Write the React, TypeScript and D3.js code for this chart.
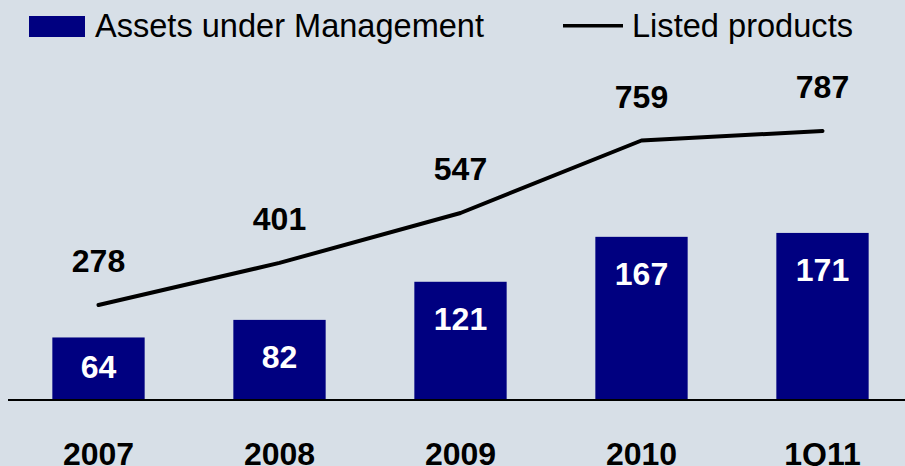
import React from "react";
import * as d3 from "d3";

const categories = ["2007", "2008", "2009", "2010", "1Q11"];
const aum = [64, 82, 121, 167, 171];
const listed = [278, 401, 547, 759, 787];
const legendLabels = ["Assets under Management", "Listed products"];

const W = 905;
const H = 466;
const BG = "#d7dfe7";
const NAVY = "#000080";

export default function App() {
  const x = d3
    .scaleBand<string>()
    .domain(categories)
    .range([8, 913])
    .paddingInner(0.49)
    .paddingOuter(0.245);
  const yBar = d3.scaleLinear().domain([0, 409.4]).range([400, 0]);
  const yLine = d3.scaleLinear().domain([0, 1170]).range([400, 0]);
  const cx = (c: string) => (x(c) as number) + x.bandwidth() / 2;

  const line = d3
    .line<number>()
    .x((_, i) => cx(categories[i]))
    .y((d) => yLine(d));

  const font = "'Liberation Sans', Arial, sans-serif";

  return (
    <>
      <style>{"body{margin:0}"}</style>
      <svg width={W} height={H} style={{ display: "block" }} fontFamily={font}>
        <rect x={0} y={0} width={W} height={H} fill={BG} />
        {/* legend */}
        <rect x={29} y={16} width={56} height={21} fill={NAVY} />
        <text x={95} y={37} fontSize={34} fill="#000" textLength={389} lengthAdjust="spacingAndGlyphs">
          {legendLabels[0]}
        </text>
        <line x1={563} x2={623} y1={25.7} y2={25.7} stroke="#000" strokeWidth={3.5} />
        <text x={632} y={37} fontSize={34} fill="#000" textLength={221} lengthAdjust="spacingAndGlyphs">
          {legendLabels[1]}
        </text>

        {/* bars */}
        {categories.map((c, i) => {
          const top = yBar(aum[i]);
          return (
            <g key={c}>
              <rect x={x(c)} y={top} width={x.bandwidth()} height={yBar(0) - top} fill={NAVY} />
              <text
                x={cx(c)}
                y={Math.min(top + 48, 378)}
                textAnchor="middle"
                fontSize={32}
                fontWeight="bold"
                fill="#fff"
              >
                {aum[i]}
              </text>
            </g>
          );
        })}

        {/* baseline */}
        <line x1={8} x2={W} y1={400} y2={400} stroke="#000" strokeWidth={2} />

        {/* line */}
        <path d={line(listed) || ""} fill="none" stroke="#000" strokeWidth={4} strokeLinecap="round" strokeLinejoin="round" />
        {categories.map((c, i) => (
          <text
            key={"l" + c}
            x={cx(c)}
            y={yLine(listed[i]) - 33}
            textAnchor="middle"
            fontSize={32}
            fontWeight="bold"
            fill="#000"
          >
            {listed[i]}
          </text>
        ))}

        {/* x labels */}
        {categories.map((c) => (
          <text key={"x" + c} x={cx(c)} y={465} textAnchor="middle" fontSize={32} fontWeight="bold" fill="#000">
            {c}
          </text>
        ))}
      </svg>
    </>
  );
}
